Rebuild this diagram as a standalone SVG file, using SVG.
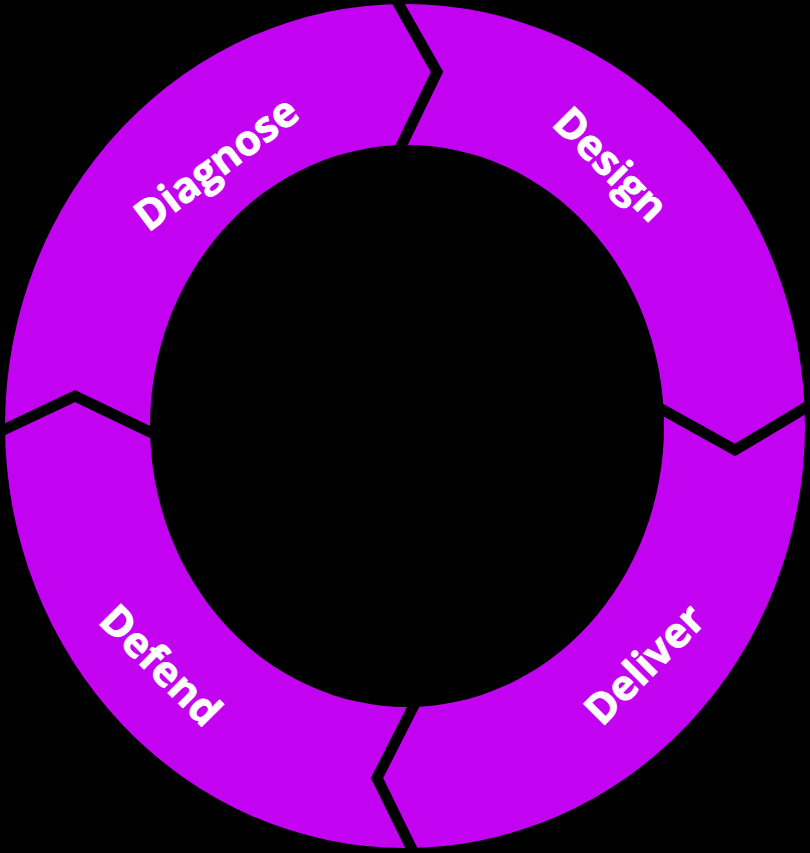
<svg xmlns="http://www.w3.org/2000/svg" width="810" height="853" viewBox="0 0 810 853">
<style>
.seg{fill:#C402F2}
.lbl{fill:#FFFFFF;stroke:#FFFFFF;stroke-width:0.8;font-family:"Open Sans","Noto Sans","Liberation Sans",sans-serif;font-weight:bold;font-size:42px;text-anchor:middle;dominant-baseline:central}
.sep{fill:none;stroke:#000000;stroke-width:11;stroke-linejoin:miter;stroke-miterlimit:10}
</style>
<defs>
<clipPath id="ring">
<path clip-rule="evenodd" d="M5,426 A400,422 0 1,0 805,426 A400,422 0 1,0 5,426 Z M150,426 A257,281 0 1,0 664,426 A257,281 0 1,0 150,426 Z"/>
</clipPath>
</defs>
<rect x="0" y="0" width="810" height="853" fill="#000000"/>
<g id="diagnose">
<polygon class="seg" clip-path="url(#ring)" points="406,426 375,200 437,72 385,-20 -20,-20 -20,441 75,396 200,456"/>
<text class="lbl" transform="translate(215,162) rotate(-37)">Diagnose</text>
</g>
<g id="design">
<polygon class="seg" clip-path="url(#ring)" points="406,426 375,200 437,72 385,-20 830,-20 830,393 735,450 620,386"/>
<text class="lbl" transform="translate(612,163) rotate(45)">Design</text>
</g>
<g id="deliver">
<polygon class="seg" clip-path="url(#ring)" points="406,426 620,386 735,450 830,393 830,880 427,880 377,778 442,650"/>
<text class="lbl" transform="translate(643,663) rotate(-45)">Deliver</text>
</g>
<g id="defend">
<polygon class="seg" clip-path="url(#ring)" points="406,426 442,650 377,778 427,880 -20,880 -20,441 75,396 200,456"/>
<text class="lbl" transform="translate(162,664) rotate(45)">Defend</text>
</g>
<g id="connectors">
<polyline class="sep" points="385,-20 437,72 375,200"/>
<polyline class="sep" points="620,386 735,450 830,393"/>
<polyline class="sep" points="-20,441 75,396 200,456"/>
<polyline class="sep" points="442,650 377,778 427,880"/>
</g>
</svg>
